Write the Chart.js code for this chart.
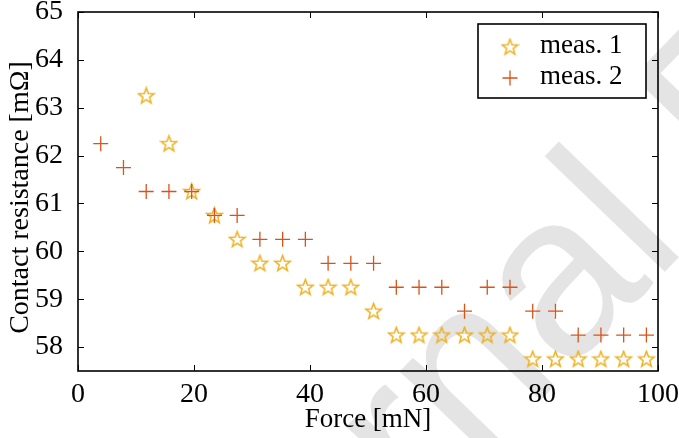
<!DOCTYPE html>
<html>
<head>
<meta charset="utf-8">
<script src="https://cdn.jsdelivr.net/npm/chart.js@4.4.1/dist/chart.umd.min.js"></script>
<style>
  html, body { margin: 0; padding: 0; background: #ffffff; }
  canvas { display: block; }
</style>
</head>
<body>
<canvas id="chart" width="679" height="438"></canvas>
<script>
// Data (force in mN, resistance in mOhm)
const forceValues = [3.92, 7.84, 11.76, 15.68, 19.6, 23.52, 27.44, 31.36, 35.28, 39.2,
  43.12, 47.04, 50.96, 54.88, 58.8, 62.72, 66.64, 70.56, 74.48, 78.4,
  82.32, 86.24, 90.16, 94.08, 98.0];
const meas1Values = [null, null, 63.25, 62.25, 61.25, 60.75, 60.25, 59.75, 59.75, 59.25,
  59.25, 59.25, 58.75, 58.25, 58.25, 58.25, 58.25, 58.25, 58.25, 57.75,
  57.75, 57.75, 57.75, 57.75, 57.75];
const meas2Values = [62.25, 61.75, 61.25, 61.25, 61.25, 60.75, 60.75, 60.25, 60.25, 60.25,
  59.75, 59.75, 59.75, 59.25, 59.25, 59.25, 58.75, 59.25, 59.25, 58.75,
  58.75, 58.25, 58.25, 58.25, 58.25];
const seriesLabels = ['meas. 1', 'meas. 2'];
const xTicks = [0, 20, 40, 60, 80, 100];
const yTicks = [58, 59, 60, 61, 62, 63, 64, 65];
const yTitle = 'Contact resistance [mΩ]';

const STAR_COLOR = '#EDB120';
const PLUS_COLOR = '#D95319';
const SERIF = "'Liberation Serif', 'DejaVu Serif', serif";

// 5-pointed hollow star used as the point style of meas. 1
function makeStar(size, color) {
  const c = document.createElement('canvas');
  c.width = size;
  c.height = size;
  const g = c.getContext('2d');
  const cx = size / 2, cy = size / 2 + 0.5;
  const outer = size / 2 - 1.2, inner = outer * 0.42;
  g.beginPath();
  for (let i = 0; i < 10; i++) {
    const r = i % 2 === 0 ? outer : inner;
    const a = -Math.PI / 2 + i * Math.PI / 5;
    const px = cx + r * Math.cos(a), py = cy + r * Math.sin(a);
    if (i === 0) g.moveTo(px, py); else g.lineTo(px, py);
  }
  g.closePath();
  g.strokeStyle = color;
  g.lineWidth = 1.5;
  g.stroke();
  return c;
}
const starImage = makeStar(19, STAR_COLOR);

function toPoints(values) {
  return values
    .map((v, i) => ({ x: forceValues[i], y: v }))
    .filter(p => p.y !== null);
}

// Grey "Journal Pre-proof" stamp behind the plot
const watermark = {
  id: 'watermark',
  beforeDraw(chart) {
    const ctx = chart.ctx;
    ctx.save();
    ctx.fillStyle = '#ffffff';
    ctx.fillRect(0, 0, chart.width, chart.height);
    ctx.font = "230px 'Liberation Sans', Arial, sans-serif";
    ctx.fillStyle = '#e4e4e4';
    ctx.textBaseline = 'alphabetic';
    ctx.translate(654, 283);
    ctx.rotate(-46 * Math.PI / 180);
    const lead = ctx.measureText('Journa').width;
    ctx.fillText('Journal Pre-proof', -lead, 0);
    ctx.restore();
  }
};

// Box frame with inward ticks on all four sides, plus the y title
const frame = {
  id: 'frame',
  afterDatasetsDraw(chart) {
    const { ctx, chartArea: a, scales } = chart;
    const len = 6;
    ctx.save();
    ctx.strokeStyle = '#000000';
    ctx.lineWidth = 1;
    ctx.beginPath();
    xTicks.forEach(v => {
      const x = Math.round(scales.x.getPixelForValue(v)) + 0.5;
      ctx.moveTo(x, a.bottom); ctx.lineTo(x, a.bottom - len);
      ctx.moveTo(x, a.top); ctx.lineTo(x, a.top + len);
    });
    yTicks.forEach(v => {
      const y = Math.round(scales.y.getPixelForValue(v)) + 0.5;
      ctx.moveTo(a.left, y); ctx.lineTo(a.left + len, y);
      ctx.moveTo(a.right, y); ctx.lineTo(a.right - len, y);
    });
    ctx.stroke();
    ctx.lineWidth = 1.6;
    ctx.strokeRect(a.left, a.top, a.right - a.left, a.bottom - a.top);

    ctx.translate(21, (a.top + a.bottom) / 2 + 6);
    ctx.rotate(-Math.PI / 2);
    ctx.fillStyle = '#000000';
    ctx.font = '28px ' + SERIF;
    ctx.textAlign = 'center';
    ctx.textBaseline = 'middle';
    ctx.fillText(yTitle, 0, 0);
    ctx.restore();
  }
};

// Boxed legend in the upper right corner
const boxLegend = {
  id: 'boxLegend',
  afterDraw(chart) {
    const ctx = chart.ctx;
    const a = chart.chartArea;
    const box = { x: a.right - 180, y: a.top + 12, w: 168, h: 74 };
    ctx.save();
    ctx.fillStyle = '#ffffff';
    ctx.fillRect(box.x, box.y, box.w, box.h);
    ctx.strokeStyle = '#000000';
    ctx.lineWidth = 1.6;
    ctx.strokeRect(box.x, box.y, box.w, box.h);

    const mx = box.x + 32;
    const rows = [box.y + 23, box.y + 54];
    ctx.drawImage(starImage, mx - starImage.width / 2, rows[0] - starImage.height / 2);
    ctx.strokeStyle = PLUS_COLOR;
    ctx.lineWidth = 1.3;
    ctx.beginPath();
    ctx.moveTo(mx - 7.5, rows[1]); ctx.lineTo(mx + 7.5, rows[1]);
    ctx.moveTo(mx, rows[1] - 7.5); ctx.lineTo(mx, rows[1] + 7.5);
    ctx.stroke();

    ctx.fillStyle = '#000000';
    ctx.font = '27px ' + SERIF;
    ctx.textBaseline = 'alphabetic';
    ctx.textAlign = 'left';
    chart.data.datasets.forEach((ds, i) => {
      ctx.fillText(ds.label, box.x + 62, rows[i] + 6);
    });
    ctx.restore();
  }
};

function fixFit(width, height) {
  return scale => {
    if (width !== null) scale.width = width;
    if (height !== null) scale.height = height;
    scale.paddingTop = 0;
    scale.paddingBottom = 0;
    scale.paddingLeft = 0;
    scale.paddingRight = 0;
  };
}

const chart = new Chart(document.getElementById('chart'), {
  type: 'scatter',
  data: {
    datasets: [
      {
        label: seriesLabels[0],
        data: toPoints(meas1Values),
        pointStyle: starImage,
        pointRadius: 9,
        order: 1
      },
      {
        label: seriesLabels[1],
        data: toPoints(meas2Values),
        pointStyle: 'cross',
        pointRadius: 7.5,
        borderColor: PLUS_COLOR,
        backgroundColor: PLUS_COLOR,
        borderWidth: 1.3,
        order: 0
      }
    ]
  },
  options: {
    responsive: false,
    animation: false,
    devicePixelRatio: 1,
    layout: { padding: { top: 12, right: 21, left: 0, bottom: 0 } },
    plugins: {
      legend: { display: false },
      tooltip: { enabled: false }
    },
    scales: {
      x: {
        type: 'linear',
        min: 0,
        max: 100,
        afterFit: fixFit(null, 67),
        afterBuildTicks: s => { s.ticks = xTicks.map(v => ({ value: v })); },
        grid: { display: false },
        border: { display: false },
        ticks: {
          color: '#000000',
          padding: -1,
          maxRotation: 0,
          font: { family: SERIF, size: 28 }
        },
        title: {
          display: true,
          text: 'Force [mN]',
          color: '#000000',
          padding: { top: 0, bottom: 2 },
          font: { family: SERIF, size: 27 }
        }
      },
      y: {
        type: 'linear',
        min: 57.5,
        max: 65,
        afterFit: fixFit(78, null),
        afterBuildTicks: s => { s.ticks = yTicks.map(v => ({ value: v })); },
        grid: { display: false },
        border: { display: false },
        ticks: {
          color: '#000000',
          padding: 7,
          font: { family: SERIF, size: 28 }
        }
      }
    }
  },
  plugins: [watermark, frame, boxLegend]
});
</script>
</body>
</html>
